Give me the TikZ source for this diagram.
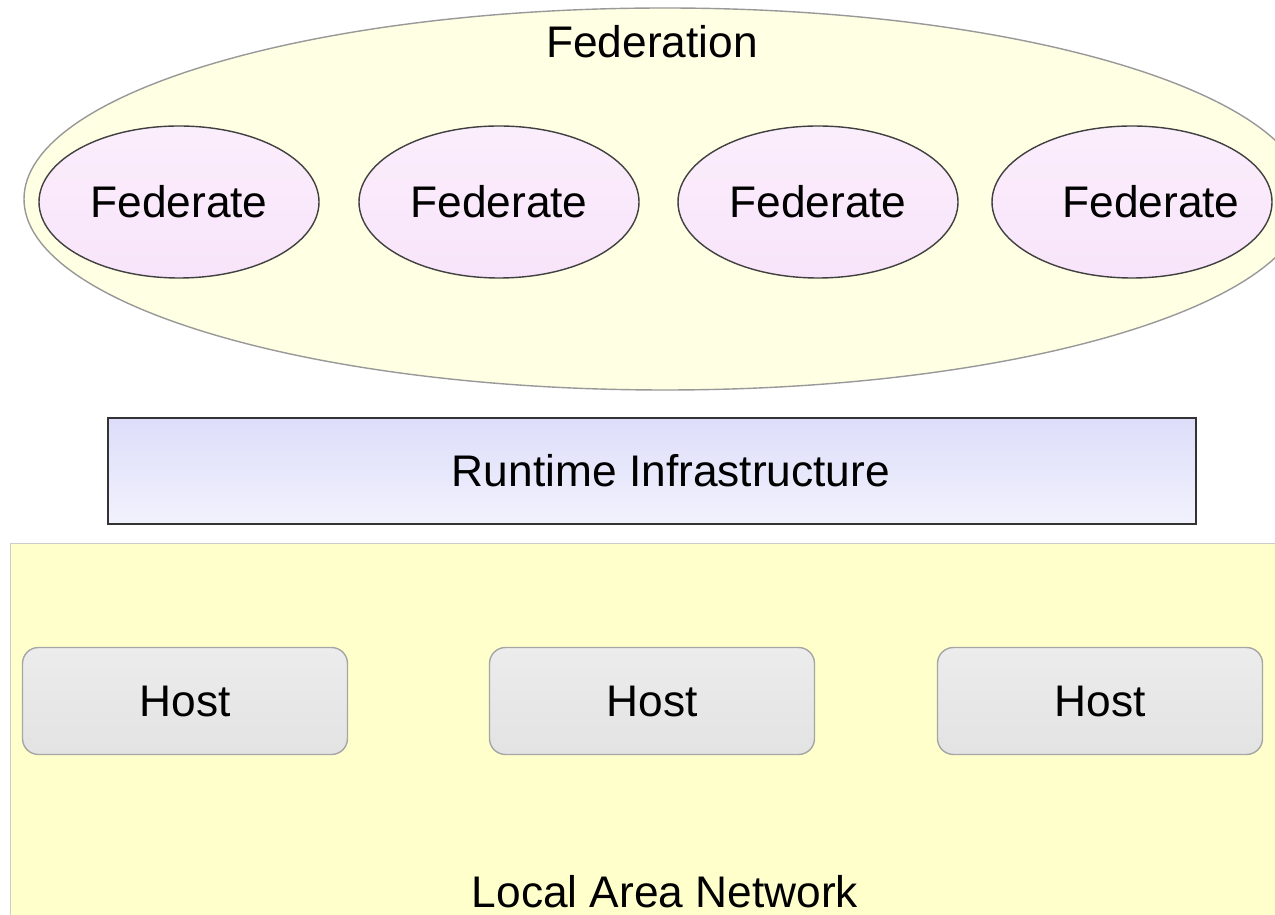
\documentclass[tikz,border=0pt]{standalone}
\usepackage{fontspec}
\setmainfont{Liberation Sans}
\usetikzlibrary{shapes.geometric}

\definecolor{fedyellow}{RGB}{255,255,228}
\definecolor{lanyellow}{RGB}{255,255,204}
\definecolor{pinktop}{RGB}{251,238,252}
\definecolor{pinkbot}{RGB}{248,228,250}
\definecolor{rtitop}{RGB}{221,221,250}
\definecolor{rtibot}{RGB}{242,242,253}
\definecolor{hosttop}{RGB}{236,236,236}
\definecolor{hostbot}{RGB}{227,227,227}

\tikzset{
  label text/.style={font=\fontsize{12.6}{15}\selectfont, inner sep=0pt},
  federate/.style={ellipse, draw=black!75, top color=pinktop, bottom color=pinkbot,
    minimum width=2.80cm, minimum height=1.52cm, inner sep=0pt, label text},
  hostbox/.style={rectangle, rounded corners=0.16cm, draw=black!35, top color=hosttop,
    bottom color=hostbot, minimum width=3.25cm, minimum height=1.07cm, inner sep=0pt, label text},
}

\begin{document}
\begin{tikzpicture}[x=0.1mm, y=-0.1mm]
        % 1. MOLDURA (pixels da imagem)
        \clip (0,0) rectangle (1275,915);
        \fill[white] (0,0) rectangle (1275,915);

        % ==========================================
        % 2. FEDERACAO
        % ==========================================
        \node[ellipse, draw=black!40, fill=fedyellow, minimum width=12.82cm,
              minimum height=3.82cm, inner sep=0pt] (federation) at (665,199) {};
        \node[label text] (fedname) at (652,42) {Federation};

        \node[federate] (fed1) at (179,202) {Federate};
        \node[federate] (fed2) at (499,202) {Federate};
        \node[federate] (fed3) at (818,202) {Federate};
        \node[federate] (fed4) at (1132,202) {};
        % texto deslocado para a direita no quarto federado
        \node[label text] (fed4name) at (1151,202) {Federate};

        % ==========================================
        % 3. RTI
        % ==========================================
        \node[rectangle, draw=black!80, top color=rtitop, bottom color=rtibot,
              minimum width=10.88cm, minimum height=1.06cm, inner sep=0pt]
              (rti) at (652,471) {};
        \node[label text] (rtiname) at (671,471) {Runtime Infrastructure};

        % ==========================================
        % 4. REDE LOCAL E HOSTS
        % ==========================================
        \node[rectangle, draw=black!20, fill=lanyellow, minimum width=12.80cm,
              minimum height=3.80cm, inner sep=0pt, anchor=north west] (lan) at (10,543) {};
        \node[label text] (lanname) at (665,892) {Local Area Network};

        \node[hostbox] (host1) at (185,701) {Host};
        \node[hostbox] (host2) at (652,701) {Host};
        \node[hostbox] (host3) at (1100,701) {Host};

    \end{tikzpicture}
\end{document}
